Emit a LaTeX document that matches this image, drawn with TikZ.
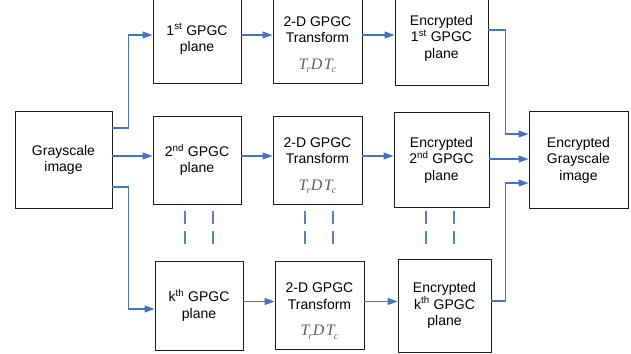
\documentclass[tikz,border=0pt]{standalone}
\usepackage{fontspec}
\setmainfont{Liberation Sans}
\newfontfamily\tmsfont{Liberation Serif}
\usetikzlibrary{arrows.meta}
\definecolor{flow}{RGB}{68,114,196}
\definecolor{frame}{RGB}{30,30,30}
\definecolor{mathgrey}{RGB}{95,95,95}
% transform formula T_r D T_c set in a Times-like italic
\newcommand{\subidx}[1]{\raisebox{-3.5pt}{\fontsize{10}{10}\selectfont #1}}
\newcommand{\tdt}{{\tmsfont\itshape\fontsize{16}{16}\selectfont T\kern-1pt\subidx{r}\kern0.5pt D\kern1.5pt T\kern-1pt\subidx{c}}}
\tikzset{
  box/.style={draw=frame, line width=0.9pt, align=center, inner sep=0pt,
    font=\fontsize{14}{16.5}\selectfont},
  txt/.style={align=center, inner sep=0pt, font=\fontsize{14}{16.5}\selectfont},
  arr/.style={draw=flow, line width=1.2pt, -{Triangle[length=10pt,width=7pt]}},
  dots/.style={draw=flow!90, line width=2pt, dash pattern=on 13pt off 7pt}
}
\begin{document}
\begin{tikzpicture}[x=1pt,y=-1pt]
\clip (0,0) rectangle (631,353);

% source and result
\node[box, minimum width=97pt, minimum height=97pt] (G) at (63.5,160) {Grayscale\\image};
\node[box, minimum width=99pt, minimum height=97pt] (EG) at (578.5,160) {Encrypted\\Grayscale\\image};

% first row
\node[box, minimum width=88pt, minimum height=88pt] (P1) at (197,39) {1\textsuperscript{st} GPGC\\plane};
\node[box, minimum width=89pt, minimum height=88pt] (T1) at (317.5,39) {};
\node[txt] (T1a) at ([yshift=9.5pt]T1.center) {2-D GPGC\\Transform};
\node[txt, text=mathgrey] (T1b) at ([yshift=-27pt]T1.center) {\tdt};
\node[box, minimum width=93pt, minimum height=94pt] (E1) at (441.5,38) {Encrypted\\1\textsuperscript{st} GPGC\\plane};

% second row
\node[box, minimum width=88pt, minimum height=88pt] (P2) at (197,160) {2\textsuperscript{nd} GPGC\\plane};
\node[box, minimum width=89pt, minimum height=88pt] (T2) at (317.5,160) {};
\node[txt] (T2a) at ([yshift=9.5pt]T2.center) {2-D GPGC\\Transform};
\node[txt, text=mathgrey] (T2b) at ([yshift=-27pt]T2.center) {\tdt};
\node[box, minimum width=95pt, minimum height=95pt] (E2) at (441.5,160) {Encrypted\\2\textsuperscript{nd} GPGC\\plane};

% k-th row
\node[box, minimum width=88pt, minimum height=89pt] (P3) at (199,305.5) {k\textsuperscript{th} GPGC\\plane};
\node[box, minimum width=89pt, minimum height=88pt] (T3) at (319.5,305.5) {};
\node[txt] (T3a) at ([yshift=9.5pt]T3.center) {2-D GPGC\\Transform};
\node[txt, text=mathgrey] (T3b) at ([yshift=-27pt]T3.center) {\tdt};
\node[box, minimum width=93pt, minimum height=93pt] (E3) at (444.5,305.5) {Encrypted\\k\textsuperscript{th} GPGC\\plane};

% splitting into planes
\draw[arr] ([yshift=32pt]G.east) -- ++(16,0) |- ([yshift=4pt]P1.west);
\draw[arr] ([yshift=4pt]G.east) -- ([yshift=4pt]P2.west);
\draw[arr] ([yshift=-27pt]G.east) -- ++(16,0) |- ([yshift=-3.5pt]P3.west);

% per-plane processing
\draw[arr] ([yshift=4pt]P1.east) -- ([yshift=4pt]T1.west);
\draw[arr] ([yshift=4pt]T1.east) -- ([yshift=3pt]E1.west);
\draw[arr] ([yshift=4pt]P2.east) -- ([yshift=4pt]T2.west);
\draw[arr] ([yshift=4pt]T2.east) -- ([yshift=4pt]E2.west);
\draw[arr] ([yshift=4pt]P3.east) -- ([yshift=4pt]T3.west);
\draw[arr] ([yshift=4pt]T3.east) -- ([yshift=4pt]E3.west);

% merging the encrypted planes
\draw[arr] ([yshift=8pt]E1.east) -- ++(17,0) |- ([yshift=26pt]EG.west);
\draw[arr] ([yshift=1pt]E2.east) -- ([yshift=1pt]EG.west);
\draw[arr] ([yshift=4.5pt]E3.east) -- ++(14,0) |- ([yshift=-23pt]EG.west);

% vertical ellipsis between second and k-th rows
\foreach \xx in {185,213,305,333,426,454}
  \draw[dots] (\xx,211) -- (\xx,244);
\end{tikzpicture}
\end{document}
